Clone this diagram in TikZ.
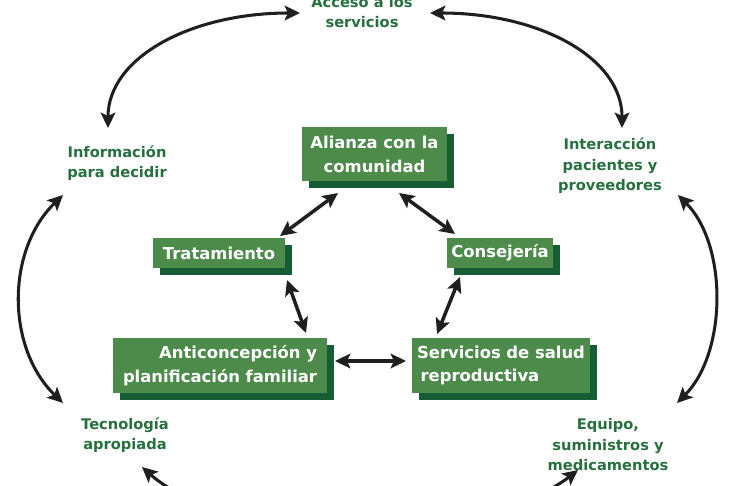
\documentclass[tikz,border=0pt]{standalone}
\usepackage{fontspec}
\setmainfont{DejaVu Sans}
\usepackage{xcolor}
\usetikzlibrary{arrows.meta,calc,shadows}
\definecolor{boxgreen}{RGB}{76,139,74}
\definecolor{shadowgreen}{RGB}{22,92,52}
\definecolor{labelgreen}{RGB}{38,112,62}
\tikzset{
  box/.style={rectangle, fill=boxgreen, text=white, inner sep=1pt,
    font=\fontsize{14}{20.4}\selectfont\bfseries, minimum height=9mm,
    general shadow={fill=shadowgreen, shadow xshift=2.1mm, shadow yshift=-2.1mm}},
  outer/.style={align=center, text=labelgreen, inner sep=1pt,
    font=\fontsize{12.5}{17.5}\selectfont\bfseries},
  link/.style={{Stealth[length=4.6mm,width=4.4mm,inset=1mm]}-{Stealth[length=4.6mm,width=4.4mm,inset=1mm]},
    line width=3pt, draw=black!88},
  outerlink/.style={link, line width=2.6pt},
}
\begin{document}
\begin{tikzpicture}[x=0.03cm, y=0.03cm]
  \useasboundingbox (0,0) rectangle (741,-486);
  \clip (0,0) rectangle (741,-486);
  \node[box, align=center, minimum width=4.35cm, minimum height=1.62cm] (al) at (374.5,-154) {Alianza con la\\comunidad};
  \node[box, minimum width=3.96cm] (trat) at (219,-253) {Tratamiento};
  \node[box, minimum width=3.18cm] (cons) at (500,-253) {Consejería};
  \node[box, align=right, minimum width=6.42cm, minimum height=1.65cm] (anti) at (220,-365.5) {Anticoncepción y\\planificación familiar};
  \node[box, align=left, minimum width=5.34cm, minimum height=1.65cm] (serv) at (501,-365.5) {Servicios de salud\\\hspace{3pt}reproductiva};
  \node[outer] (acc) at (362,-12) {Acceso a los\\servicios};
  \node[outer] (info) at (117,-163) {Información\\para decidir};
  \node[outer] (inter) at (610,-166) {Interacción\\pacientes y\\proveedores};
  \node[outer] (tec) at (125,-435) {Tecnología\\apropiada};
  \node[outer] (equ) at (608,-445) {Equipo,\\suministros y\\medicamentos};
  \draw[link] ($(al)+(-36.5,-39)$) -- ($(trat)+(61,17)$);
  \draw[link] ($(al)+(24.5,-39)$) -- ($(cons)+(-45,19)$);
  \draw[link] ($(trat)+(68,-27)$) -- ($(anti)+(86,32.5)$);
  \draw[link] ($(cons)+(-40,-24)$) -- ($(serv)+(-64,31.5)$);
  \draw[link] ($(anti)+(115,4.5)$) -- ($(serv)+(-95,4.5)$);
  \draw[outerlink] ($(acc)+(-62,-1)$) .. controls +(-110,0) and +(0,70) .. ($(info)+(-9,35)$);
  \draw[outerlink] ($(acc)+(68,-1)$) .. controls +(110,0) and +(0,70) .. ($(inter)+(12,38)$);
  \draw[outerlink] ($(info)+(-54,-32)$) .. controls +(-57,-55) and +(-57,55) .. ($(tec)+(-62,32)$);
  \draw[outerlink] ($(inter)+(68,-29)$) .. controls +(50,-50) and +(50,50) .. ($(equ)+(69,42)$);
  \draw[outerlink] ($(tec)+(17,-32)$) .. controls +(90,-80) and +(-90,-70) .. ($(equ)+(-30,-25)$);
\end{tikzpicture}
\end{document}
